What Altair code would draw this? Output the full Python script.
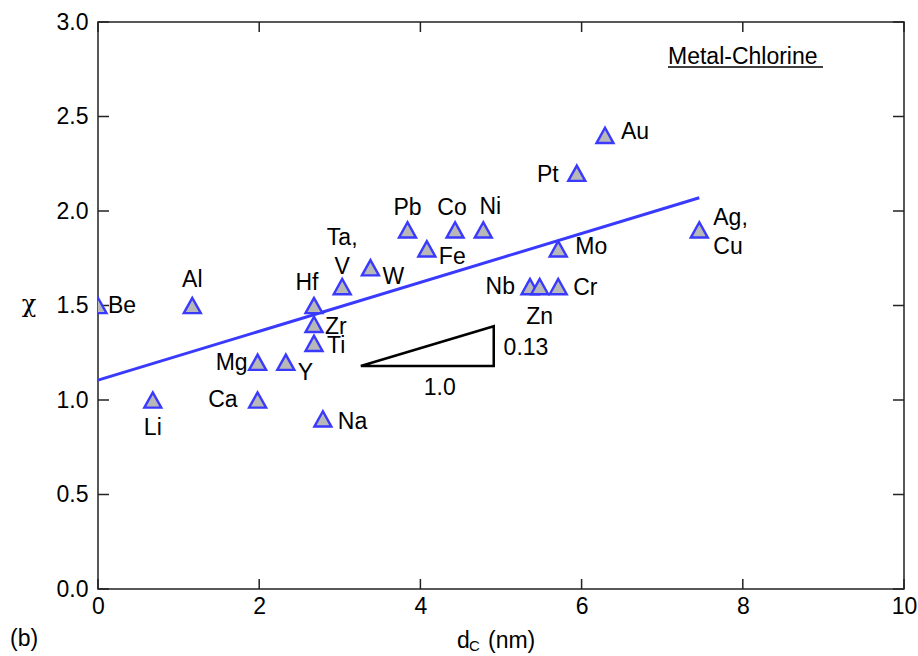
import altair as alt
import pandas as pd

# ---- data ----
metals = ["Be", "Li", "Al", "Mg", "Ca", "Y", "Hf", "Zr", "Ti", "Na", "Ta,\nV", "W",
          "Pb", "Fe", "Co", "Ni", "Nb", "Zn", "Cr", "Mo", "Pt", "Au", "Ag,\nCu"]
d_c = [0.0, 0.68, 1.17, 1.98, 1.98, 2.33, 2.68, 2.68, 2.68, 2.79, 3.03, 3.38,
       3.84, 4.08, 4.43, 4.78, 5.36, 5.48, 5.71, 5.71, 5.94, 6.29, 7.46]
chi = [1.5, 1.0, 1.5, 1.2, 1.0, 1.2, 1.5, 1.4, 1.3, 0.9, 1.6, 1.7,
       1.9, 1.8, 1.9, 1.9, 1.6, 1.6, 1.6, 1.8, 2.2, 2.4, 1.9]

fit_x = [0.0, 7.46]
fit_y = [1.105, 2.07]

slope_x = [3.26, 4.91, 4.91, 3.26]
slope_y = [1.18, 1.18, 1.39, 1.18]
slope_lbl = ["1.0", "0.13"]
slope_lbl_x = [4.24, 5.31]
slope_lbl_y = [1.063, 1.275]

x_ticks = [0, 2, 4, 6, 8, 10]
y_ticks = [0.0, 0.5, 1.0, 1.5, 2.0, 2.5, 3.0]

# label placement (pixel offsets, alignment) -- styling only
label_style = {
    "Be": (10, 0, "left"), "Li": (0, 28, "center"), "Al": (0, -26, "center"),
    "Mg": (-10, 1, "right"), "Ca": (-20, 0, "right"), "Y": (12, 11, "left"),
    "Hf": (-7, -23, "center"), "Zr": (11, 3, "left"), "Ti": (13, 3, "left"),
    "Na": (15, 3, "left"), "Ta,\nV": (0, -49, "center"), "W": (12, 9, "left"),
    "Pb": (0, -22, "center"), "Fe": (12, 8, "left"), "Co": (-3, -22, "center"),
    "Ni": (7, -23, "center"), "Nb": (-15, 0, "right"), "Zn": (0, 30, "center"),
    "Cr": (15, 1, "left"), "Mo": (17, -2, "left"), "Pt": (-18, 2, "right"),
    "Au": (16, -3, "left"), "Ag,\nCu": (14, -12, "left"),
}

FONT = "Liberation Sans"
FS = 23
W, H = 806, 567
BLUE = "#3a3aff"
TRI = "M0,-0.9L-1,0.9L1,0.9Z"

pts = pd.DataFrame({"name": metals, "x": d_c, "y": chi})
fit = pd.DataFrame({"x": fit_x, "y": fit_y})
tri = pd.DataFrame({"x": slope_x, "y": slope_y, "o": list(range(len(slope_x)))})
tri_lbl = pd.DataFrame({"t": slope_lbl, "x": slope_lbl_x, "y": slope_lbl_y})
xt = pd.DataFrame({"x": x_ticks})
yt = pd.DataFrame({"y": y_ticks})

xscale = alt.Scale(domain=[0, 10], nice=False, zero=False)
yscale = alt.Scale(domain=[0, 3], nice=False, zero=False)
xaxis = alt.Axis(values=x_ticks, format="d", title=None, ticks=False, tickSize=0,
                 domain=False, grid=False, labelPadding=6, labelFlush=False)
yaxis = alt.Axis(values=y_ticks, format=".1f", title=None, ticks=False, tickSize=0,
                 domain=False, grid=False, labelPadding=10, labelFlush=False)


def X(f="x"):
    return alt.X(f"{f}:Q", scale=xscale, axis=xaxis, title=None)


def Y(f="y"):
    return alt.Y(f"{f}:Q", scale=yscale, axis=yaxis, title=None)


layers = []

# inward ticks
layers.append(alt.Chart(xt).mark_rule(color="#222", strokeWidth=1.5).encode(
    x=X(), y=alt.value(H), y2=alt.value(H - 10)))
layers.append(alt.Chart(xt).mark_rule(color="#222", strokeWidth=1.5).encode(
    x=X(), y=alt.value(0), y2=alt.value(10)))
layers.append(alt.Chart(yt).mark_rule(color="#222", strokeWidth=1.5).encode(
    y=Y(), x=alt.value(0), x2=alt.value(11)))
layers.append(alt.Chart(yt).mark_rule(color="#222", strokeWidth=1.5).encode(
    y=Y(), x=alt.value(W), x2=alt.value(W - 11)))

# fit line
layers.append(alt.Chart(fit).mark_line(color=BLUE, strokeWidth=3).encode(x=X(), y=Y()))

# slope triangle
layers.append(alt.Chart(tri).mark_line(color="black", strokeWidth=2.5).encode(
    x=X(), y=Y(), order="o:Q"))
layers.append(alt.Chart(tri_lbl).mark_text(font=FONT, fontSize=FS, color="black").encode(
    x=X(), y=Y(), text="t:N"))

# points
layers.append(alt.Chart(pts).mark_point(shape=TRI, size=289, filled=True,
                                        fill="#b8b8b8", stroke=BLUE, strokeWidth=2.4,
                                        opacity=1, fillOpacity=1, strokeOpacity=1,
                                        clip=True).encode(x=X(), y=Y()))

# labels
for name in metals:
    dx, dy, al = label_style[name]
    layers.append(alt.Chart(pts).transform_filter(alt.datum.name == name).mark_text(
        font=FONT, fontSize=FS, color="black", align=al, baseline="middle",
        dx=dx, dy=dy, lineBreak="\n", lineHeight=29).encode(x=X(), y=Y(), text="name:N"))

# annotations (titles)
one = pd.DataFrame({"k": [0]})


def txt(s, x, y, size=FS, align="left", baseline="alphabetic", font=FONT):
    return alt.Chart(one).mark_text(text=s, font=font, fontSize=size, align=align,
                                    baseline=baseline, color="black").encode(
        x=alt.value(x), y=alt.value(y))


layers.append(txt("d", 359, 626))
layers.append(txt("C", 371, 629, size=15))
layers.append(txt("(nm)", 390, 626))
layers.append(txt("(b)", -88, 624))
layers.append(txt("χ", -69, 283, size=24, align="center", baseline="middle", font="DejaVu Serif"))
layers.append(txt("Metal-Chlorine", 570, 42))
layers.append(alt.Chart(one).mark_rule(color="black", strokeWidth=1.5).encode(
    x=alt.value(570), x2=alt.value(725), y=alt.value(45)))

chart = alt.layer(*layers).properties(
    width=W, height=H,
    autosize=alt.AutoSizeParams(type="none"),
    padding={"left": 98, "top": 22, "right": 14, "bottom": 67},
).configure_view(stroke="#222", strokeWidth=1.5).configure_axis(
    labelFont=FONT, labelFontSize=FS, labelColor="black"
)

chart.save("out.html", embed_options={"renderer": "svg", "actions": False})
